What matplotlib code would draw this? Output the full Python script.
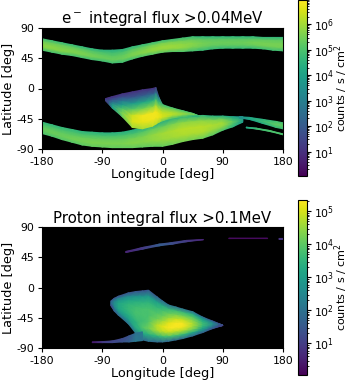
import numpy as np
import matplotlib
matplotlib.use('Agg')
import matplotlib.pyplot as plt
from matplotlib.colors import LogNorm

plt.rcParams['axes.unicode_minus'] = False

# each patch: longitudes, top and bottom edge lat, then log10(flux) rows going from top edge to bottom edge
# --- electrons ---
N_LON = [-180, -165, -150, -135, -120, -105, -90, -75, -60, -45, -30, -15, 0, 15, 30, 45, 60, 75, 90, 105, 120, 135, 150, 165, 180]
N_TOP = [74, 71, 68, 65, 62, 59, 57, 57, 58, 62, 65, 68, 71, 73, 75, 77, 77, 77, 77, 77, 77, 77, 76, 76, 76]
N_BOT = [57, 54, 51, 49, 46, 43, 41, 38, 39, 44, 48, 51, 54, 55, 55, 56, 57, 59, 60, 60, 60, 60, 59, 57, 56]
N_FLUX = [
    [4.8, 4.8, 4.7, 4.7, 4.6, 4.5, 4.5, 4.4, 4.5, 4.6, 4.7, 4.8, 4.8, 4.8, 4.8, 4.7, 4.6, 4.6, 4.6, 4.6, 4.6, 4.6, 4.6, 4.6, 4.6],
    [5.4, 5.4, 5.4, 5.3, 5.2, 5.1, 5.0, 4.9, 5.0, 5.2, 5.3, 5.5, 5.6, 5.6, 5.5, 5.4, 5.3, 5.2, 5.2, 5.2, 5.2, 5.2, 5.3, 5.3, 5.3],
    [5.7, 5.7, 5.6, 5.6, 5.5, 5.4, 5.3, 5.2, 5.3, 5.5, 5.6, 5.8, 5.9, 5.9, 5.8, 5.7, 5.5, 5.4, 5.4, 5.4, 5.4, 5.5, 5.5, 5.5, 5.5],
    [5.7, 5.7, 5.7, 5.6, 5.6, 5.5, 5.4, 5.4, 5.4, 5.6, 5.7, 5.8, 5.9, 5.9, 5.8, 5.6, 5.4, 5.3, 5.3, 5.3, 5.3, 5.4, 5.5, 5.5, 5.5],
    [4.9, 4.9, 4.9, 4.9, 4.9, 4.8, 4.8, 4.8, 4.8, 4.9, 5.0, 5.1, 5.2, 5.1, 5.0, 4.9, 4.7, 4.7, 4.7, 4.7, 4.7, 4.7, 4.8, 4.8, 4.8],
]
S_LON = [-180, -165, -150, -135, -120, -105, -90, -75, -60, -45, -30, -15, 0, 15, 30, 45, 60, 75, 90, 105, 120]
S_TOP = [-50, -54, -58, -61, -64, -65, -66, -66, -65, -62, -58, -53, -48, -44, -42, -41, -40, -41, -41, -42, -42]
S_BOT = [-67, -71, -76, -80, -84, -86, -87, -88, -88, -88, -87, -86, -86, -83, -79, -76, -74, -69, -62, -57, -50]
S_FLUX = [
    [4.6, 4.6, 4.6, 4.6, 4.5, 4.5, 4.4, 4.4, 4.4, 4.3, 4.2, 4.1, 4.2, 4.4, 4.6, 4.6, 4.5, 4.4, 4.3, 4.0, 3.5],
    [5.0, 5.0, 5.0, 5.0, 5.0, 5.0, 5.0, 5.0, 5.0, 5.0, 5.1, 5.3, 5.4, 5.6, 5.8, 5.8, 5.8, 5.7, 5.5, 4.7, 3.7],
    [5.3, 5.3, 5.3, 5.3, 5.4, 5.4, 5.4, 5.4, 5.4, 5.5, 5.6, 5.8, 6.0, 6.1, 6.2, 6.2, 6.2, 6.1, 6.0, 5.2, 3.9],
    [5.3, 5.4, 5.4, 5.5, 5.5, 5.6, 5.6, 5.6, 5.6, 5.7, 5.7, 5.8, 5.9, 6.0, 6.1, 6.1, 6.1, 5.9, 5.8, 5.0, 3.9],
    [5.0, 5.0, 5.1, 5.1, 5.2, 5.3, 5.3, 5.3, 5.3, 5.3, 5.3, 5.3, 5.3, 5.4, 5.5, 5.5, 5.4, 5.2, 5.0, 4.5, 3.7],
]
BLOB_LON = [-85, -75, -60, -45, -30, -15, -10, -5, 0, 15, 30, 45, 55]
BLOB_TOP = [-15, -12, -8, -5, -2, 0, 1.5, -14, -24, -29, -33, -37, -41]
BLOB_BOT = [-18, -29, -42, -58, -60, -56, -53, -50, -48, -44, -42, -41, -41]
BLOB_FLUX = [
    [1.0, 1.0, 1.0, 1.0, 1.0, 1.0, 0.8, 2.4, 4.8, 5.0, 5.0, 5.0, 4.8],
    [1.0, 1.4, 1.8, 2.0, 2.2, 2.4, 2.6, 4.4, 5.4, 5.5, 5.3, 5.2, 4.8],
    [1.0, 2.0, 3.0, 3.8, 4.2, 4.4, 4.6, 5.4, 5.9, 5.8, 5.6, 5.4, 4.8],
    [1.2, 2.6, 4.0, 5.2, 5.6, 5.8, 6.0, 6.2, 6.3, 6.1, 5.8, 5.4, 4.8],
    [1.2, 3.4, 5.0, 6.4, 6.8, 6.8, 6.8, 6.7, 6.5, 6.2, 5.8, 5.3, 4.8],
    [1.2, 4.0, 5.6, 6.6, 6.7, 6.8, 6.8, 6.7, 6.4, 5.9, 5.5, 5.0, 4.6],
    [1.2, 3.8, 5.4, 6.0, 6.0, 6.2, 6.2, 6.0, 5.4, 5.0, 4.8, 4.6, 4.4],
]
ST1_LON = [115, 130, 150, 170, 180]
ST1_TOP = [-42, -43, -46, -49, -51]
ST1_BOT = [-44, -46, -52, -58, -60]
ST1_FLUX = [[3.4, 4.0, 4.4, 4.8, 4.8], [3.6, 4.2, 4.8, 5.3, 5.3], [3.4, 4.0, 4.4, 4.7, 4.7]]
ST2_LON = [125, 140, 160, 180]
ST2_TOP = [-57.5, -59, -62.5, -67.5]
ST2_BOT = [-58.5, -60.2, -63.8, -68.8]
ST2_FLUX = [[4.2, 4.8, 5.0, 5.0], [4.2, 4.8, 5.0, 5.0]]

# --- protons ---
P_LON = [-77, -72, -66, -51, -40, -30, -21, -8, 0, 9, 20, 30, 45, 60, 75, 90]
P_TOP = [-20, -16, -13, -8, -6, -5, -4, -14, -20, -26, -29, -32, -36, -44, -50, -56]
P_BOT = [-27, -35, -41, -54, -68, -78, -80, -81, -81, -80, -78, -76, -72, -67, -61, -56.5]
P_FLUX = [
    [1.2, 1.4, 1.4, 1.4, 1.4, 1.4, 1.4, 1.6, 1.8, 2.0, 2.0, 2.0, 2.0, 1.8, 1.4, 1.0],
    [1.6, 2.0, 2.4, 2.6, 2.8, 2.9, 2.9, 3.1, 3.3, 3.6, 3.7, 3.7, 3.4, 2.8, 2.0, 1.0],
    [1.8, 2.4, 2.9, 3.2, 3.4, 3.5, 3.5, 3.6, 3.8, 4.1, 4.3, 4.3, 4.0, 3.3, 2.4, 1.0],
    [1.8, 2.6, 3.2, 3.5, 3.7, 3.8, 3.8, 3.9, 4.1, 4.6, 4.9, 4.9, 4.4, 3.6, 2.6, 1.0],
    [1.8, 2.6, 3.2, 3.6, 3.8, 3.8, 3.8, 4.2, 4.6, 5.1, 5.3, 5.3, 4.7, 3.7, 2.6, 1.0],
    [1.8, 2.6, 3.2, 3.5, 3.7, 3.7, 3.9, 4.8, 5.1, 5.3, 5.3, 5.2, 4.6, 3.5, 2.4, 1.0],
    [1.6, 2.4, 3.0, 3.3, 3.4, 3.9, 4.2, 4.7, 4.8, 4.9, 4.8, 4.6, 4.2, 3.1, 2.2, 1.0],
    [1.4, 2.0, 2.6, 2.9, 3.4, 3.2, 3.4, 3.5, 3.7, 3.8, 3.8, 3.6, 3.2, 2.6, 1.8, 1.0],
    [1.2, 1.6, 1.8, 2.0, 2.2, 1.8, 1.9, 1.8, 1.8, 1.8, 1.8, 1.8, 1.8, 1.6, 1.4, 1.0],
]
TAIL_LON = [-105, -90, -75, -60, -50, -40, -30]
TAIL_TOP = [-81, -80.5, -79.5, -76, -72, -68, -66]
TAIL_BOT = [-82, -82, -82, -81, -81, -80, -79]
TAIL_FLUX = [[0.4, 0.9, 1.1, 1.2, 1.4, 2.0, 2.2], [0.4, 1.0, 1.2, 1.4, 1.6, 2.2, 2.0]]
ARC_LON = [-55, -30, -5, 15, 35, 61]
ARC_TOP = [53.5, 59.5, 64.5, 67, 70, 71.5]
ARC_BOT = [52, 57, 62, 64.5, 68, 71]
ARC_FLUX = [[0.6, 0.9, 1.5, 1.2, 0.9, 0.5], [0.6, 1.0, 1.6, 1.3, 1.0, 0.5]]
EAST_LON = [99, 157]
EAST_TOP = [73.3, 73.3]
EAST_BOT = [72.8, 72.8]
EAST_FLUX = [[0.2, 0.2], [0.2, 0.2]]
EDGE_LON = [174, 180]
EDGE_TOP = [73, 73]
EDGE_BOT = [71.5, 71.5]
EDGE_FLUX = [[0.8, 0.8], [0.8, 0.8]]

TITLES = ['e$^-$ integral flux >0.04MeV', 'Proton integral flux >0.1MeV']
VMIN = [1.1, 1.1]
VMAX = [9e6, 2.2e5]
LON_TICKS = [-180, -90, 0, 90, 180]
LAT_TICKS = [-90, -45, 0, 45, 90]

PATCHES = [
    [(N_LON, N_TOP, N_BOT, N_FLUX), (S_LON, S_TOP, S_BOT, S_FLUX), (BLOB_LON, BLOB_TOP, BLOB_BOT, BLOB_FLUX),
     (ST1_LON, ST1_TOP, ST1_BOT, ST1_FLUX), (ST2_LON, ST2_TOP, ST2_BOT, ST2_FLUX)],
    [(P_LON, P_TOP, P_BOT, P_FLUX), (TAIL_LON, TAIL_TOP, TAIL_BOT, TAIL_FLUX), (ARC_LON, ARC_TOP, ARC_BOT, ARC_FLUX),
     (EAST_LON, EAST_TOP, EAST_BOT, EAST_FLUX), (EDGE_LON, EDGE_TOP, EDGE_BOT, EDGE_FLUX)],
]


def draw_patch(ax, norm, lon, top, bot, flux):
    flux = np.array(flux, float)
    f = np.linspace(0, 1, flux.shape[0])[:, None]
    lat = np.array(top) + (np.array(bot) - np.array(top)) * f
    xx = np.tile(np.array(lon, float), (flux.shape[0], 1))
    return ax.pcolormesh(xx, lat, 10 ** flux, shading='gouraud', cmap='viridis', norm=norm)


W, H = 350, 383
fig = plt.figure(figsize=(W / 100, H / 100), dpi=100)
boxes = [(42, 28, 283, 149, 0, 176), (42, 227, 283, 348, 200, 375)]
for k, patches in enumerate(PATCHES):
    x0, y0, x1, y1, cy0, cy1 = boxes[k]
    ax = fig.add_axes([x0 / W, 1 - y1 / H, (x1 - x0) / W, (y1 - y0) / H])
    ax.set_facecolor('black')
    norm = LogNorm(VMIN[k], VMAX[k])
    for p in patches:
        im = draw_patch(ax, norm, *p)
    ax.set_xlim(-180, 180)
    ax.set_ylim(-90, 90)
    ax.set_xticks(LON_TICKS)
    ax.set_yticks(LAT_TICKS)
    ax.tick_params(labelsize=7.8, pad=2.5, length=3)
    ax.set_xlabel('Longitude [deg]', fontsize=9.3, labelpad=1)
    ax.set_ylabel('Latitude [deg]', fontsize=9.3, labelpad=1)
    ax.set_title(TITLES[k], fontsize=10.8, pad=3)
    cax = fig.add_axes([298 / W, 1 - cy1 / H, 9 / W, (cy1 - cy0) / H])
    cb = fig.colorbar(im, cax=cax)
    cb.ax.tick_params(labelsize=7.8, pad=2, length=3)
    cb.ax.tick_params(which='minor', length=1.5)
    cb.set_label('counts / s / cm$^2$', fontsize=8, labelpad=-1)

plt.savefig('out.png', dpi=100)
plt.close()
